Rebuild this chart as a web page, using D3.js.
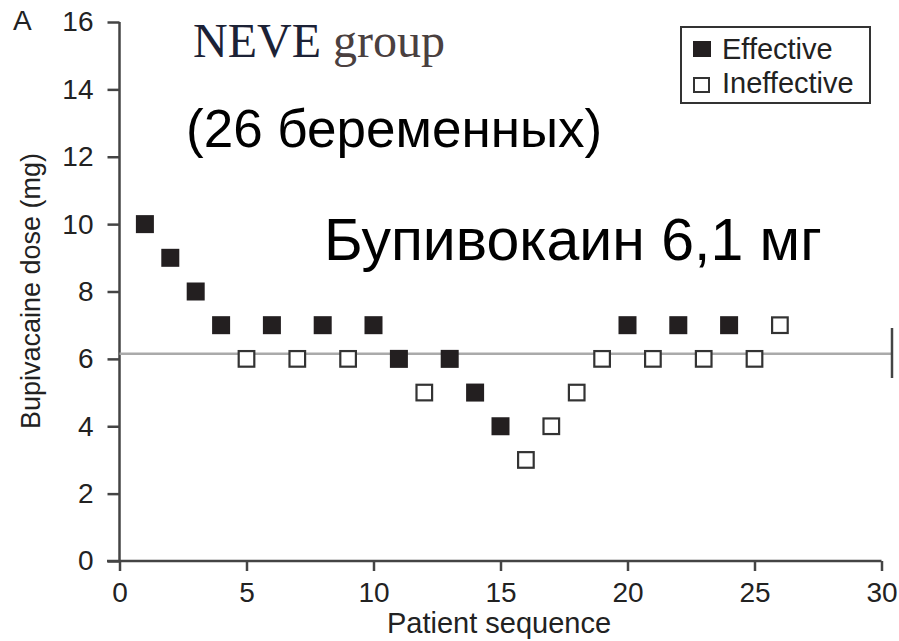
<!DOCTYPE html>
<html>
<head>
<meta charset="utf-8">
<script src="https://cdn.jsdelivr.net/npm/d3@7"></script>
<style>
  body { margin: 0; background: #fff; }
  text { font-family: "Liberation Sans", Arial, sans-serif; }
</style>
</head>
<body>
<div id="chart"></div>
<script>
// patient sequence, dose, outcome (1 = effective, 0 = ineffective)
var patients = d3.range(1, 27);
var doses = [10, 9, 8, 7, 6, 7, 6, 7, 6, 7, 6, 5, 6, 5, 4, 3, 4, 5, 6, 7, 6, 7, 6, 7, 6, 7];
var effective = [1, 1, 1, 1, 0, 1, 0, 1, 0, 1, 1, 0, 1, 1, 1, 0, 0, 0, 0, 1, 0, 1, 0, 1, 0, 0];
var xTicks = [0, 5, 10, 15, 20, 25, 30];
var yTicks = [0, 2, 4, 6, 8, 10, 12, 14, 16];
var ed50 = 6.15;

var width = 899, height = 641;
var svg = d3.select("#chart").append("svg")
  .attr("width", width).attr("height", height);

var x = d3.scaleLinear().domain([0, 30]).range([119.5, 881.5]);
var y = d3.scaleLinear().domain([0, 16]).range([561, 22]);

// x axis
var xa = svg.append("g")
  .attr("transform", "translate(0," + y(0) + ")")
  .call(d3.axisBottom(x).tickValues(xTicks).tickSize(10).tickPadding(11).tickSizeOuter(0));
xa.select(".domain").attr("d", "M107,0H" + x(30)).attr("stroke", "#444").attr("stroke-width", 2.5);
xa.selectAll(".tick line").attr("stroke", "#444").attr("stroke-width", 2.5);
xa.selectAll(".tick text").style("font-size", "28px").attr("fill", "#222");

// y axis
var ya = svg.append("g")
  .attr("transform", "translate(" + x(0) + ",0)")
  .call(d3.axisLeft(y).tickValues(yTicks).tickSize(12).tickPadding(14).tickSizeOuter(0));
ya.select(".domain").attr("d", "M0," + y(16) + "V" + y(0)).attr("stroke", "#444").attr("stroke-width", 2.5);
ya.selectAll(".tick line").attr("stroke", "#444").attr("stroke-width", 2.5);
ya.selectAll(".tick text").style("font-size", "28px").attr("fill", "#222");

// axis titles
svg.append("text")
  .attr("x", 499).attr("y", 633)
  .attr("text-anchor", "middle")
  .style("font-size", "29px").attr("fill", "#222")
  .text("Patient sequence");
svg.append("text")
  .attr("transform", "translate(40,291) rotate(-90)")
  .attr("text-anchor", "middle")
  .style("font-size", "27px").attr("fill", "#222")
  .text("Bupivacaine dose (mg)");
svg.append("text")
  .attr("x", 13).attr("y", 30)
  .style("font-size", "28px").attr("fill", "#222")
  .text("A");

// ED50 line
svg.append("line")
  .attr("x1", x(0)).attr("x2", 892)
  .attr("y1", y(ed50)).attr("y2", y(ed50))
  .attr("stroke", "#aaa").attr("stroke-width", 2.5);
svg.append("line")
  .attr("x1", 892).attr("x2", 892)
  .attr("y1", 328).attr("y2", 378)
  .attr("stroke", "#444").attr("stroke-width", 2.5);

// squares
svg.selectAll(".pt")
  .data(patients)
  .enter()
  .append("rect")
    .attr("class", "pt")
    .attr("x", function(d, i) { return x(d) - (effective[i] ? 9 : 7.8); })
    .attr("y", function(d, i) { return y(doses[i]) - (effective[i] ? 9 : 7.8); })
    .attr("width", function(d, i) { return effective[i] ? 18 : 15.6; })
    .attr("height", function(d, i) { return effective[i] ? 18 : 15.6; })
    .attr("fill", function(d, i) { return effective[i] ? "#231f20" : "#fff"; })
    .attr("stroke", function(d, i) { return effective[i] ? "none" : "#333"; })
    .attr("stroke-width", 2.2);

// legend
svg.append("rect")
  .attr("x", 681).attr("y", 27).attr("width", 189).attr("height", 76)
  .attr("fill", "#fff").attr("stroke", "#333").attr("stroke-width", 2);
svg.append("rect")
  .attr("x", 693).attr("y", 41).attr("width", 18).attr("height", 16)
  .attr("fill", "#231f20");
svg.append("rect")
  .attr("x", 694).attr("y", 78).attr("width", 15).attr("height", 14)
  .attr("fill", "#fff").attr("stroke", "#333").attr("stroke-width", 2);
svg.append("text")
  .attr("x", 722).attr("y", 59)
  .style("font-size", "29px").attr("fill", "#222")
  .text("Effective");
svg.append("text")
  .attr("x", 722).attr("y", 93)
  .style("font-size", "29px").attr("fill", "#222")
  .text("Ineffective");

// annotations
var neve = svg.append("text")
  .attr("x", 193).attr("y", 57)
  .style("font-family", "'Liberation Serif', 'Times New Roman', serif")
  .style("font-size", "48px");
neve.append("tspan").attr("fill", "#1c2236").text("NEVE ");
neve.append("tspan").attr("fill", "#4a4040").text("group");
svg.append("text")
  .attr("x", 186).attr("y", 147)
  .style("font-size", "53px").attr("fill", "#000")
  .text("(26 беременных)");
svg.append("text")
  .attr("x", 324).attr("y", 260)
  .style("font-size", "59px").attr("fill", "#000")
  .text("Бупивокаин 6,1 мг");
</script>
</body>
</html>
